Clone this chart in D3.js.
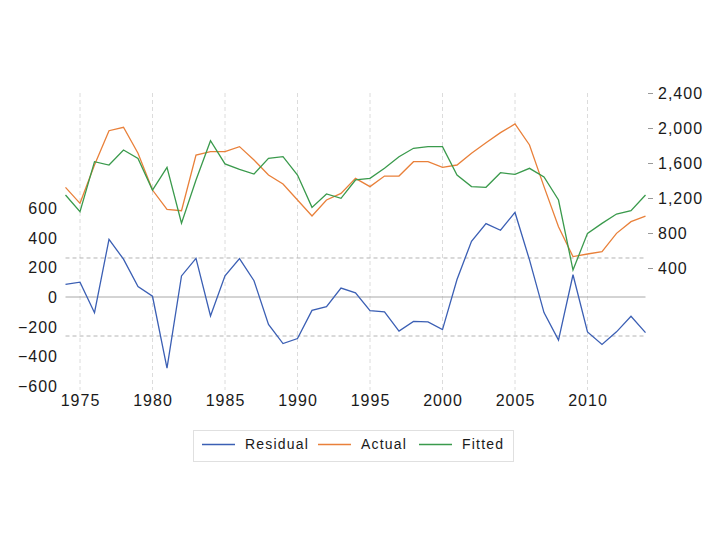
<!DOCTYPE html>
<html>
<head>
<meta charset="utf-8">
<script src="https://cdnjs.cloudflare.com/ajax/libs/d3/7.8.5/d3.min.js"></script>
<style>
  html, body { margin: 0; padding: 0; background: #fff; }
  svg text { font-family: "Liberation Sans", Arial, sans-serif; fill: #1a1a1a; }
</style>
</head>
<body>
<svg id="chart" width="715" height="534"></svg>
<script>
const years = d3.range(1974, 2015);
const actual = [1322, 1139, 1577, 1969, 2008, 1711, 1291, 1070, 1055, 1691,
                1730, 1730, 1787, 1634, 1463, 1360, 1177, 994, 1177, 1253,
                1425, 1330, 1451, 1451, 1615, 1615, 1551, 1577, 1711, 1832,
                1947, 2046, 1806, 1330, 872, 530, 560, 587, 796, 930, 994];
const fitted = [1234, 1044, 1615, 1577, 1749, 1653, 1291, 1551, 911, 1406,
                1855, 1589, 1528, 1474, 1653, 1672, 1463, 1093, 1246, 1196,
                1406, 1425, 1539, 1672, 1768, 1787, 1787, 1463, 1330, 1322,
                1489, 1470, 1539, 1440, 1177, 377, 796, 910, 1017, 1055, 1234];
const residual = [85, 100, -106, 389, 255, 70, 5, -479, 142, 260,
                  -128, 143, 259, 110, -185, -314, -280, -90, -65, 60,
                  28, -92, -100, -230, -165, -168, -220, 118, 376, 495,
                  450, 570, 250, -105, -290, 150, -236, -320, -235, -130, -240];
const leftTicks = [-600, -400, -200, 0, 200, 400, 600];
const rightTicks = [400, 800, 1200, 1600, 2000, 2400];
const xTicks = [1975, 1980, 1985, 1990, 1995, 2000, 2005, 2010];
const residualBands = [263, -263];
const seriesNames = ["Residual", "Actual", "Fitted"];
const seriesColors = ["#3b5fb4", "#e9803a", "#3a9a4c"];

const svg = d3.select("#chart");
const x = d3.scaleLinear().domain([1974, 2014]).range([65.5, 645.5]);
const yL = d3.scaleLinear().domain([-600, 600]).range([386, 208]);
const yR = d3.scaleLinear().domain([0, 2400]).range([303, 93]);

// vertical grid
svg.append("g").selectAll("line").data(xTicks).join("line")
  .attr("x1", d => x(d)).attr("x2", d => x(d))
  .attr("y1", 93).attr("y2", 390)
  .attr("stroke", "#dcdcdc").attr("stroke-dasharray", "4,3").attr("stroke-width", 1);

// residual bands
svg.append("g").selectAll("line").data(residualBands).join("line")
  .attr("x1", x(1974)).attr("x2", x(2014))
  .attr("y1", d => yL(d)).attr("y2", d => yL(d))
  .attr("stroke", "#b4b4b4").attr("stroke-dasharray", "4,3").attr("stroke-width", 1);
// zero line
svg.append("line")
  .attr("x1", x(1974)).attr("x2", x(2014))
  .attr("y1", yL(0)).attr("y2", yL(0))
  .attr("stroke", "#a8a8a8").attr("stroke-width", 1);

// left axis
const gL = svg.append("g").attr("transform", "translate(58,0)")
  .call(d3.axisLeft(yL).tickValues(leftTicks).tickSize(0).tickPadding(0).tickFormat(d3.format("d")));
gL.select(".domain").remove();
gL.selectAll("text").style("font-size", "16px").style("letter-spacing", "1px")
  .attr("dy", "0.35em");

// right axis
const gR = svg.append("g").attr("transform", "translate(648,0)")
  .call(d3.axisRight(yR).tickValues(rightTicks).tickSize(5).tickPadding(5).tickFormat(d3.format(",")));
gR.select(".domain").remove();
gR.selectAll("line").attr("stroke", "#999");
gR.selectAll("text").style("font-size", "16px").style("letter-spacing", "1px")
  .attr("dy", "0.35em");

// bottom axis
const gB = svg.append("g").attr("transform", "translate(0,390)")
  .call(d3.axisBottom(x).tickValues(xTicks).tickSize(0).tickPadding(5).tickFormat(d3.format("d")));
gB.select(".domain").remove();
gB.selectAll("text").style("font-size", "16px").style("letter-spacing", "1px");

// lines
const lineL = d3.line().x((d, i) => x(years[i])).y(d => yL(d));
const lineR = d3.line().x((d, i) => x(years[i])).y(d => yR(d));
svg.append("path").datum(actual).attr("d", lineR)
  .attr("fill", "none").attr("stroke", seriesColors[1]).attr("stroke-width", 1.3);
svg.append("path").datum(fitted).attr("d", lineR)
  .attr("fill", "none").attr("stroke", seriesColors[2]).attr("stroke-width", 1.3);
svg.append("path").datum(residual).attr("d", lineL)
  .attr("fill", "none").attr("stroke", seriesColors[0]).attr("stroke-width", 1.3);

// legend
const lg = svg.append("g");
lg.append("rect").attr("x", 193.5).attr("y", 430.5).attr("width", 320).attr("height", 31)
  .attr("fill", "#fff").attr("stroke", "#e0e0e0");
const lx = [202, 318, 419];
seriesNames.forEach((n, i) => {
  lg.append("line").attr("x1", lx[i]).attr("x2", lx[i] + 33).attr("y1", 444.5).attr("y2", 444.5)
    .attr("stroke", seriesColors[i]).attr("stroke-width", 1.3);
  lg.append("text").attr("x", lx[i] + 43).attr("y", 444).attr("dy", "0.35em")
    .style("font-size", "14px").style("letter-spacing", "1.2px").text(n);
});
</script>
</body>
</html>
